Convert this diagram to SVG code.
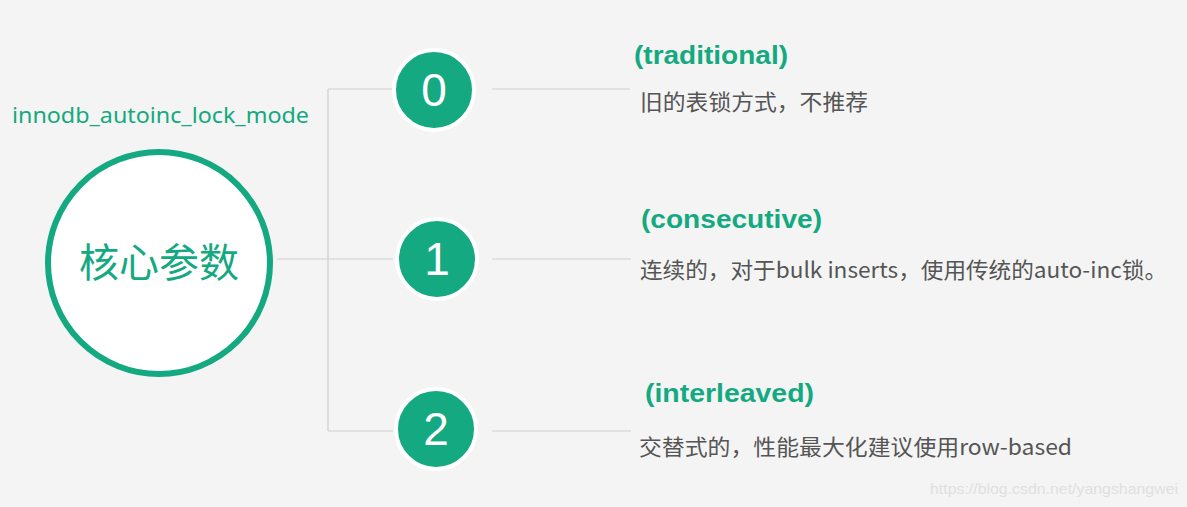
<svg xmlns="http://www.w3.org/2000/svg" width="1187" height="507" viewBox="0 0 1187 507">
<style>
.bg{fill:#f4f4f4}
.conn{stroke:#cfcfcf;stroke-width:1.2;fill:none}
.num{fill:#14a980;stroke:#ffffff;stroke-width:4}
.numt{font-family:"Liberation Sans","Noto Sans",sans-serif;font-size:46px;fill:#ffffff;text-anchor:middle}
.title{font-family:"Liberation Sans","Noto Sans",sans-serif;font-weight:bold;font-size:25px;fill:#14a980}
.desc{font-family:"Noto Sans CJK SC","Noto Sans",sans-serif;font-size:22px;fill:#555555}
</style>
<rect class="bg" x="0" y="0" width="1187" height="507"/>
<g id="connectors">
<path class="conn" d="M277 259H393M328 89V431M328 89H393M328 431H393"/>
<path class="conn" d="M492 89H630M492 259H631M492 431H631"/>
</g>
<g id="core">
<text x="12" y="123" font-family="'Noto Sans','Noto Sans CJK SC',sans-serif" font-size="22" fill="#14a980" textLength="297" lengthAdjust="spacingAndGlyphs">innodb_autoinc_lock_mode</text>
<circle cx="159" cy="263" r="111" fill="#ffffff" stroke="#14a980" stroke-width="6"/>
<text x="159" y="277" font-family="'Noto Sans CJK SC',sans-serif" font-size="40" fill="#14a980" text-anchor="middle">核心参数</text>
</g>
<g id="mode0">
<circle class="num" cx="434" cy="90" r="40"/>
<text class="numt" x="434" y="106">0</text>
<text class="title" x="634" y="64" textLength="154" lengthAdjust="spacingAndGlyphs">(traditional)</text>
<text class="desc" x="640" y="110" textLength="228" lengthAdjust="spacingAndGlyphs">旧的表锁方式，不推荐</text>
</g>
<g id="mode1">
<circle class="num" cx="437" cy="259" r="40"/>
<text class="numt" x="437" y="275">1</text>
<text class="title" x="641" y="228" textLength="181" lengthAdjust="spacingAndGlyphs">(consecutive)</text>
<text class="desc" x="640" y="278" textLength="527" lengthAdjust="spacingAndGlyphs">连续的，对于bulk inserts，使用传统的auto-inc锁。</text>
</g>
<g id="mode2">
<circle class="num" cx="436" cy="429" r="40"/>
<text class="numt" x="436" y="445">2</text>
<text class="title" x="645" y="402" textLength="169" lengthAdjust="spacingAndGlyphs">(interleaved)</text>
<text class="desc" x="639" y="455" textLength="433" lengthAdjust="spacingAndGlyphs">交替式的，性能最大化建议使用row-based</text>
</g>
<text x="930" y="494" font-family="'Liberation Sans',sans-serif" font-size="15" fill="#e0e0e0" textLength="248" lengthAdjust="spacingAndGlyphs">https://blog.csdn.net/yangshangwei</text>
</svg>
